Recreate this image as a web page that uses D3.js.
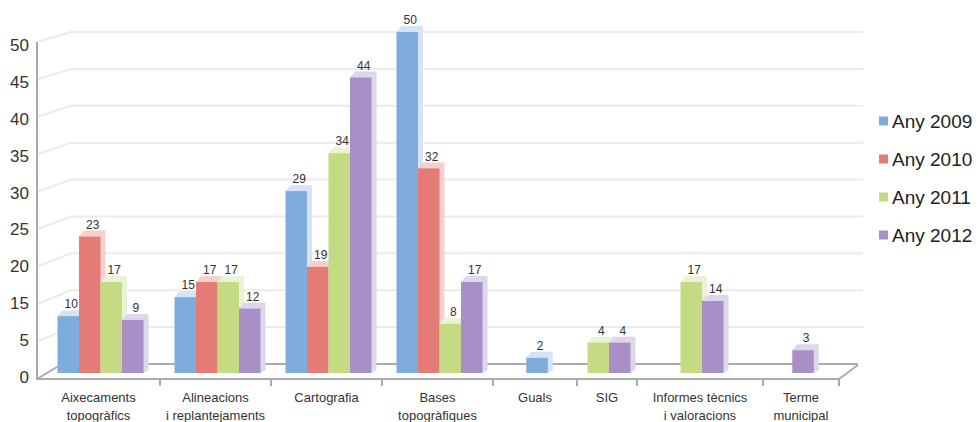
<!DOCTYPE html>
<html>
<head>
<meta charset="utf-8">
<script src="https://cdn.jsdelivr.net/npm/d3@7/dist/d3.min.js"></script>
<style>
  html, body { margin: 0; padding: 0; background: #fff; }
  svg { display: block; font-family: "Liberation Sans", Arial, sans-serif; }
</style>
</head>
<body>
<svg id="chart" width="978" height="422"></svg>
<script>
// ---- data ----
const categories = [
  "Aixecaments\ntopogràfics",
  "Alineacions\ni replantejaments",
  "Cartografia",
  "Bases\ntopogràfiques",
  "Guals",
  "SIG",
  "Informes tècnics\ni valoracions",
  "Terme\nmunicipal"
];
const seriesNames = ["Any 2009", "Any 2010", "Any 2011", "Any 2012"];
const any2009 = [10, 15, 29, 50, 2, null, null, null];
const any2010 = [23, 17, 19, 32, null, null, null, null];
const any2011 = [17, 17, 34, 8, null, 4, 17, null];
const any2012 = [9, 12, 44, 17, null, 4, 14, 3];
const yTickLabels = [0, 5, 15, 20, 25, 30, 35, 40, 45, 50];

// ---- layout / style ----
const seriesValues = [any2009, any2010, any2011, any2012];
const colors = ["#7eacdc", "#e57b77", "#c4da83", "#a890c6"];
const sideColors = ["#d5e3f4", "#f6d0cd", "#ebf3d6", "#ded6eb"];
const bandWeights = [123, 111, 111, 111, 84, 60, 126, 76];

const svg = d3.select("#chart");

const floorLeft = 37, floorRight = 839;
const frontBottom = 379, frontTop = 42;
const backBottom = 364, backTop = 32;
const barBase = 373, barTop50 = 32;
const gridDX = 34;
const floorDX = 22;
const barW = 21.5, depthX = 5, depthY = 6;

function tickScale(bottom, top) {
  const n = yTickLabels.length - 1;
  return d3.scaleLinear()
    .domain(yTickLabels)
    .range(yTickLabels.map((d, i) => bottom + (top - bottom) * i / n));
}
const yFront = tickScale(frontBottom, frontTop);
const yBack = tickScale(backBottom, backTop);
const yBar = tickScale(barBase, barTop50);
const yLabel = tickScale(377, 45);

// category band edges through a linear scale over cumulative weights
const cum = [0, ...d3.cumsum(bandWeights)];
const xw = d3.scaleLinear().domain([0, d3.sum(bandWeights)]).range([floorLeft, floorRight]);
const edges = cum.map(v => xw(v));
const bandCenter = i => (edges[i] + edges[i + 1]) / 2;

// ---- gridlines on back wall ----
const gridG = svg.append("g");
yTickLabels.forEach((t, i) => {
  if (i === 0) return;
  const yf = yFront(t);
  const yb = yBack(t);
  gridG.append("path")
    .attr("d", `M${floorLeft},${yf}L${floorLeft + gridDX},${yb}L${floorRight + 24},${yb}`)
    .attr("fill", "none")
    .attr("stroke", "#ebebeb")
    .attr("stroke-width", 2);
});

// floor
svg.append("path")
  .attr("d", `M${floorLeft},${frontBottom}L${floorLeft + floorDX + 3},${backBottom}L${floorRight + 19},${backBottom}`)
  .attr("fill", "none").attr("stroke", "#ababab").attr("stroke-width", 2);
svg.append("path")
  .attr("d", `M${floorRight},${frontBottom}L${floorRight + 19},${backBottom + 1}`)
  .attr("fill", "none").attr("stroke", "#ababab").attr("stroke-width", 2);

// ---- bars ----
const barsG = svg.append("g");
const labelsG = svg.append("g");
categories.forEach((c, ci) => {
  const present = seriesValues.map((arr, si) => ({ si, v: arr[ci] })).filter(d => d.v != null);
  const total = present.length * barW;
  const start = bandCenter(ci) - total / 2 + 2;
  present.forEach((d, k) => {
    const x0 = start + k * barW, x1 = x0 + barW;
    const top = yBar(d.v);
    // top face + side face
    barsG.append("path")
      .attr("d", `M${x0},${top}L${x0 + depthX},${top - depthY}L${x1 + depthX},${top - depthY}L${x1 + depthX},${barBase - 3}L${x1},${barBase}Z`)
      .attr("fill", sideColors[d.si]);
    // front face
    barsG.append("rect")
      .attr("x", x0).attr("y", top)
      .attr("width", barW).attr("height", barBase - top)
      .attr("fill", colors[d.si]);
    labelsG.append("text")
      .attr("x", x0 + barW / 2 + 3)
      .attr("y", top - 12)
      .attr("dy", "0.35em")
      .attr("text-anchor", "middle")
      .attr("font-size", 12)
      .attr("fill", "#333")
      .text(d.v);
  });
});

// ---- axes ----
svg.append("line")
  .attr("x1", floorLeft).attr("x2", floorLeft)
  .attr("y1", frontTop).attr("y2", frontBottom)
  .attr("stroke", "#ababab").attr("stroke-width", 2);
svg.append("line")
  .attr("x1", floorLeft - 1).attr("x2", floorRight)
  .attr("y1", frontBottom).attr("y2", frontBottom)
  .attr("stroke", "#ababab").attr("stroke-width", 2);

// y tick labels
svg.append("g").selectAll("text")
  .data(yTickLabels)
  .join("text")
  .attr("x", 29)
  .attr("y", d => yLabel(d))
  .attr("dy", "0.35em")
  .attr("text-anchor", "end")
  .attr("font-size", 17)
  .attr("fill", "#333")
  .text(d => d);

// category ticks
svg.append("g").selectAll("line")
  .data(edges.slice(1))
  .join("line")
  .attr("x1", d => d).attr("x2", d => d)
  .attr("y1", frontBottom).attr("y2", frontBottom + 7)
  .attr("stroke", "#ababab").attr("stroke-width", 2);

// category labels
const catG = svg.append("g");
categories.forEach((c, i) => {
  const lines = c.split("\n");
  const t = catG.append("text")
    .attr("text-anchor", "middle")
    .attr("font-size", 13)
    .attr("fill", "#333");
  lines.forEach((ln, j) => {
    t.append("tspan")
      .attr("x", bandCenter(i))
      .attr("y", 402 + j * 18)
      .text(ln);
  });
});

// ---- legend ----
const legG = svg.append("g");
seriesNames.forEach((s, i) => {
  const cy = 121 + i * 38;
  legG.append("rect")
    .attr("x", 879).attr("y", cy - 4.5)
    .attr("width", 9).attr("height", 9)
    .attr("fill", colors[i]);
  legG.append("text")
    .attr("x", 892).attr("y", cy)
    .attr("dy", "0.35em")
    .attr("font-size", 19)
    .attr("fill", "#222")
    .text(s);
});
</script>
</body>
</html>
